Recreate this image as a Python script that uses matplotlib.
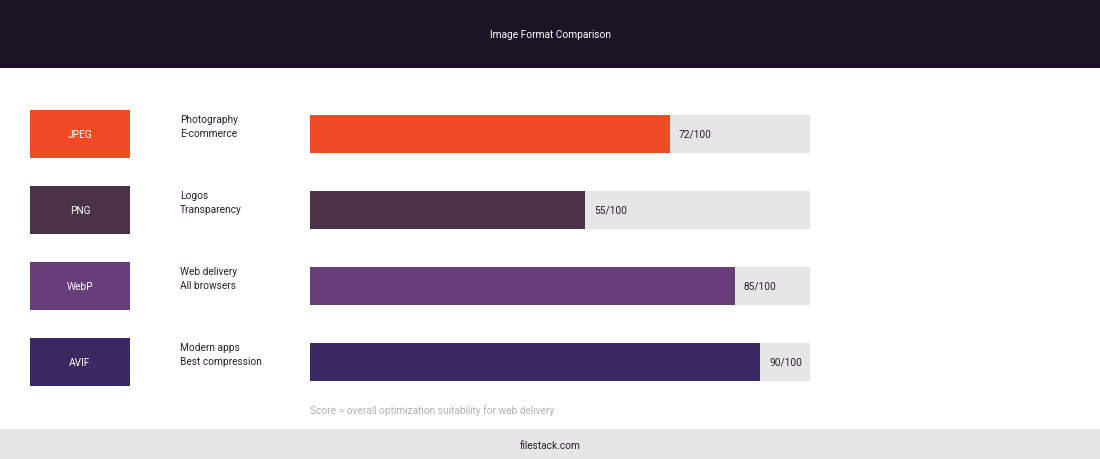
import matplotlib.pyplot as plt
from matplotlib.patches import Rectangle

formats = ['JPEG', 'PNG', 'WebP', 'AVIF']
uses = [('Photography', 'E-commerce'),
        ('Logos', 'Transparency'),
        ('Web delivery', 'All browsers'),
        ('Modern apps', 'Best compression')]
scores = [72, 55, 85, 90]
max_score = 100
colors = ['#f04b24', '#4a3347', '#673e7a', '#3c2963']

title = 'Image Format Comparison'
note = 'Score = overall optimization suitability for web delivery'
footer = 'filestack.com'

plt.rcParams['font.family'] = ['Roboto', 'DejaVu Sans']

W, H = 1100, 460
fig = plt.figure(figsize=(W / 100, H / 100), dpi=100)

# fond en pixels pour le bandeau, les étiquettes et le pied de page
bg = fig.add_axes([0, 0, 1, 1])
bg.set_xlim(0, W)
bg.set_ylim(H, 0)
bg.axis('off')

bg.add_patch(Rectangle((0, 0), W, 69, color='#1b1326', lw=0))
bg.text(W / 2, 35, title, color='white', fontsize=7.3, ha='center', va='center')

bg.add_patch(Rectangle((0, 430), W, 30, color='#e6e6e6', lw=0))
bg.text(W / 2, 446, footer, color='#2a1f2d', fontsize=7.3, ha='center', va='center')

row_top, row_gap = 135, 76
for i, (fmt, (l1, l2), col) in enumerate(zip(formats, uses, colors)):
    yc = row_top + i * row_gap
    bg.add_patch(Rectangle((30, yc - 24), 100, 48, color=col, lw=0))
    bg.text(80, yc, fmt, color='white', fontsize=7.3, ha='center', va='center')
    bg.text(180, yc - 15, l1, color='#2a1f2d', fontsize=7.3, ha='left', va='center')
    bg.text(180, yc - 1, l2, color='#2a1f2d', fontsize=7.3, ha='left', va='center')

bg.text(310, 411, note, color='#b5b0b8', fontsize=7.3, ha='left', va='center')

# barres de score
top_px = row_top - 38
bottom_px = row_top + 3 * row_gap + 38
ax = fig.add_axes([310 / W, 1 - bottom_px / H, 500 / W, (bottom_px - top_px) / H])
ax.set_xlim(0, max_score)
ax.set_ylim(len(formats) - 0.5, -0.5)
ax.axis('off')

y = range(len(formats))
ax.barh(y, [max_score] * len(formats), height=0.49, color='#e6e6e6', lw=0)
ax.barh(y, scores, height=0.49, color=colors, lw=0)
for i, s in enumerate(scores):
    ax.text(s + 1.8, i, f'{s}/{max_score}', color='#2a1f2d', fontsize=7.3,
            ha='left', va='center')

fig.savefig('out.png', dpi=100)
